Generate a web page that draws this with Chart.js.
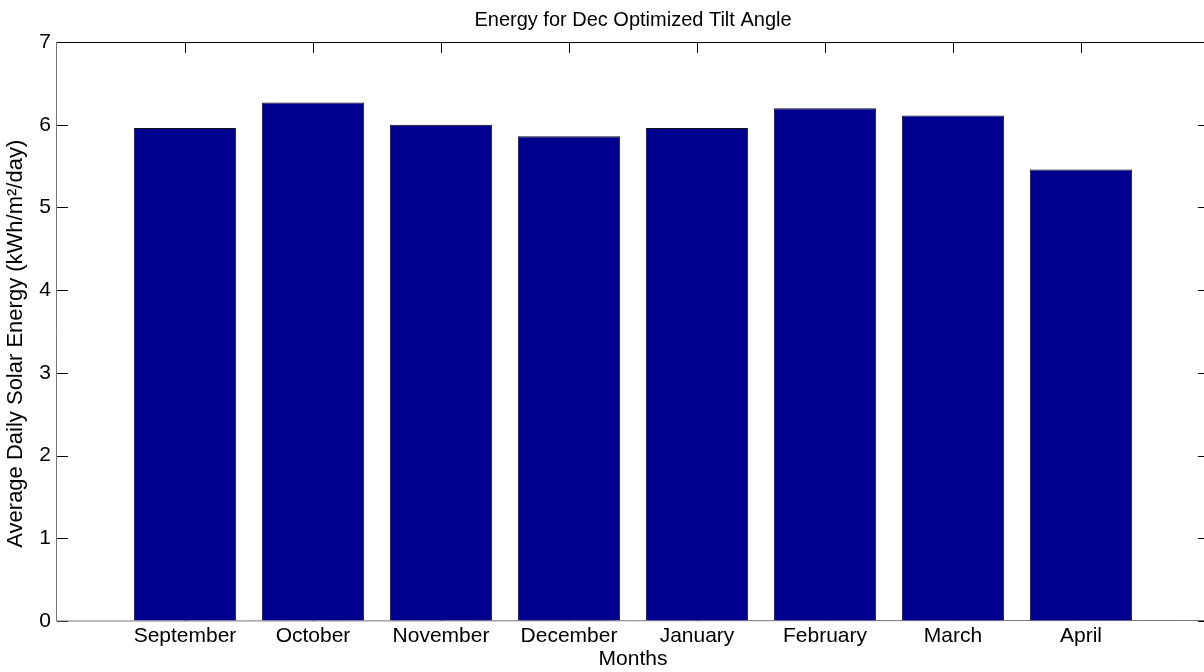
<!DOCTYPE html>
<html>
<head>
<meta charset="utf-8">
<title>Energy for Dec Optimized Tilt Angle</title>
<script src="https://cdn.jsdelivr.net/npm/chart.js@4/dist/chart.umd.min.js"></script>
<style>
  html, body { margin: 0; padding: 0; background: #fff; overflow: hidden; }
  #wrap { width: 1204px; height: 672px; overflow: hidden; }
</style>
</head>
<body>
<div id="wrap"><canvas id="energyChart" width="1220" height="672"></canvas></div>
<script>
// data
const months = ['September', 'October', 'November', 'December', 'January', 'February', 'March', 'April'];
const energy = [5.96, 6.27, 6.00, 5.86, 5.96, 6.20, 6.11, 5.46];
const yTicks = [0, 1, 2, 3, 4, 5, 6, 7];

const FONT = 'Liberation Sans, Arial, sans-serif';
const TICK_LEN = 11;

// matlab-ish axes: inward ticks on all four sides + box
const matlabAxes = {
    id: 'matlabAxes',
    beforeDatasetsDraw(chart) {
        const { ctx, chartArea: a, scales } = chart;
        ctx.save();
        ctx.lineWidth = 1;
        ctx.strokeStyle = '#000';
        ctx.beginPath();
        scales.y.ticks.forEach(t => {
            const py = Math.round(scales.y.getPixelForValue(t.value)) + 0.5;
            ctx.moveTo(a.left, py); ctx.lineTo(a.left + TICK_LEN, py);
            ctx.moveTo(a.right, py); ctx.lineTo(a.right - TICK_LEN, py);
        });
        scales.x.ticks.forEach(t => {
            const px = Math.round(scales.x.getPixelForValue(t.value)) + 0.5;
            ctx.moveTo(px, a.top); ctx.lineTo(px, a.top + TICK_LEN);
            ctx.moveTo(px, a.bottom); ctx.lineTo(px, a.bottom - TICK_LEN);
        });
        ctx.stroke();
        // top / right edge
        ctx.beginPath();
        ctx.moveTo(a.left, Math.round(a.top) + 0.5);
        ctx.lineTo(a.right, Math.round(a.top) + 0.5);
        ctx.moveTo(Math.round(a.right) + 0.5, a.top);
        ctx.lineTo(Math.round(a.right) + 0.5, a.bottom);
        ctx.stroke();
        // left / bottom edge come out grey in the original
        ctx.strokeStyle = '#777';
        ctx.beginPath();
        ctx.moveTo(Math.round(a.left) - 0.5, a.top);
        ctx.lineTo(Math.round(a.left) - 0.5, a.bottom);
        ctx.lineTo(a.right, Math.round(a.bottom) - 0.5);
        ctx.stroke();
        ctx.restore();
    }
};

new Chart(document.getElementById('energyChart'), {
    type: 'bar',
    data: {
        datasets: [{
            data: energy.map((v, i) => ({ x: i + 1, y: v })),
            backgroundColor: '#00008f',
            borderColor: '#111',
            borderWidth: 1,
            barPercentage: 0.8,
            categoryPercentage: 1.0
        }]
    },
    options: {
        responsive: false,
        animation: false,
        layout: { padding: { left: 0, right: 11, top: 0, bottom: 0 } },
        plugins: {
            legend: { display: false },
            tooltip: { enabled: false },
            title: { display: false }
        },
        scales: {
            x: {
                type: 'linear',
                position: 'bottom',
                offset: false,
                min: 0,
                max: months.length + 1,
                afterBuildTicks: s => { s.ticks = months.map((m, i) => ({ value: i + 1 })); },
                afterFit: s => { s.height = 51; },
                ticks: {
                    color: '#000',
                    font: { family: FONT, size: 21 },
                    padding: 3,
                    autoSkip: false,
                    maxRotation: 0,
                    callback: v => months[v - 1] || ''
                },
                grid: { drawOnChartArea: false, drawTicks: false },
                border: { display: false },
                title: {
                    display: true,
                    text: 'Months',
                    color: '#000',
                    font: { family: FONT, size: 21 },
                    padding: { top: 0, bottom: 0 }
                }
            },
            xTop: {
                type: 'linear',
                position: 'top',
                offset: false,
                min: 0,
                max: months.length + 1,
                afterFit: s => { s.height = 42; },
                ticks: { display: false },
                grid: { display: false },
                border: { display: false },
                title: {
                    display: true,
                    text: 'Energy for Dec Optimized Tilt Angle',
                    color: '#000',
                    font: { family: FONT, size: 20 },
                    padding: { top: 8, bottom: 0 }
                }
            },
            y: {
                min: 0,
                max: 7,
                afterBuildTicks: s => { s.ticks = yTicks.map(v => ({ value: v })); },
                afterFit: s => { s.width = 57; },
                ticks: {
                    color: '#000',
                    font: { family: FONT, size: 21 },
                    padding: 6
                },
                grid: { drawOnChartArea: false, drawTicks: false },
                border: { display: false },
                title: {
                    display: true,
                    // trailing spaces push the label a little lower, like the original
                    text: 'Average Daily Solar Energy (kWh/m²/day)    ',
                    color: '#000',
                    font: { family: FONT, size: 22 },
                    padding: { top: 3, bottom: 0 }
                }
            }
        }
    },
    plugins: [matlabAxes]
});
</script>
</body>
</html>
